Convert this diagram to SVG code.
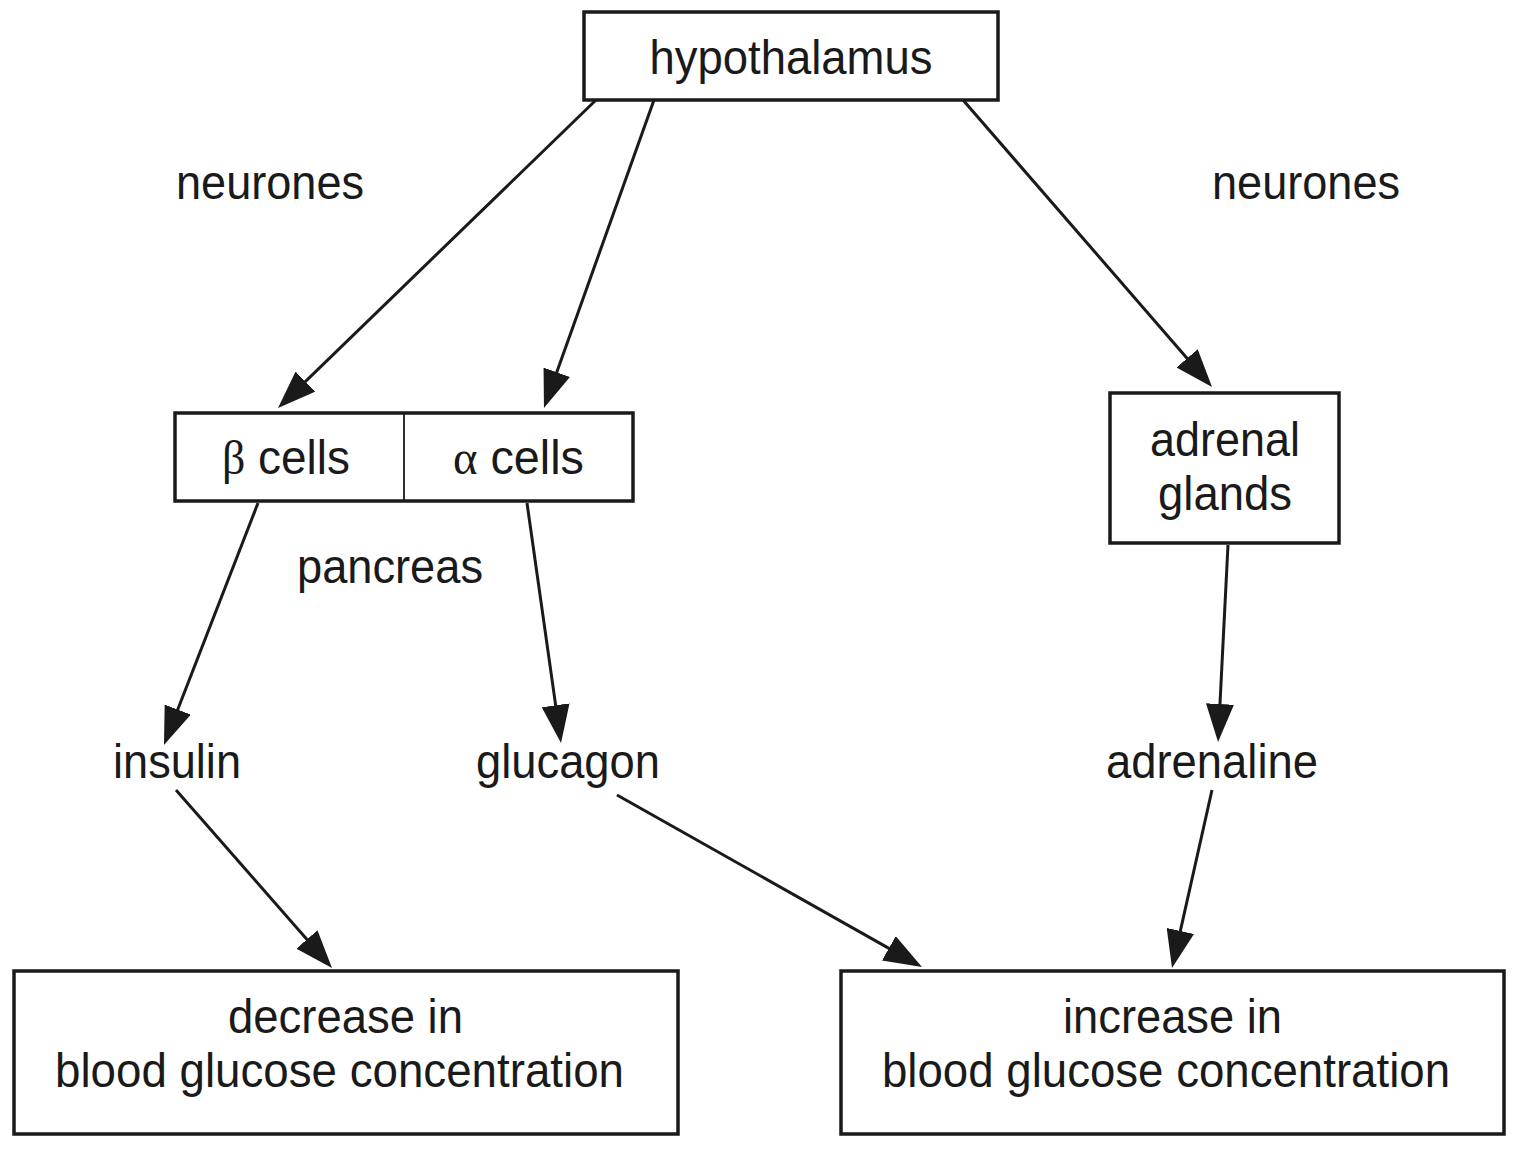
<svg xmlns="http://www.w3.org/2000/svg" width="1514" height="1149" viewBox="0 0 1514 1149">
<defs>
<style>
.box{fill:#fff;stroke:#1a1a1a;stroke-width:3.5}
.div{stroke:#1a1a1a;stroke-width:1.8}
.t{font-family:"Liberation Sans",Arial,sans-serif;font-size:48px;fill:#1a1a1a;text-anchor:middle}
.ln{stroke:#1a1a1a;stroke-width:3;fill:none;marker-end:url(#ah)}
</style>
<marker id="ah" viewBox="0 0 38 28" refX="23" refY="14" markerWidth="38" markerHeight="28" markerUnits="userSpaceOnUse" orient="auto">
<path d="M0,0 L38,14 L0,28 z" fill="#1a1a1a"/>
</marker>
</defs>
<rect width="1514" height="1149" fill="#fff"/>
<g id="connectors">
<line class="ln" x1="596" y1="100" x2="288.8" y2="397.6"/>
<line class="ln" x1="654" y1="100" x2="549.0" y2="393.9"/>
<line class="ln" x1="963" y1="100" x2="1202.2" y2="375.7"/>
<line class="ln" x1="258" y1="503" x2="169.4" y2="731.0"/>
<line class="ln" x1="527" y1="503" x2="558.9" y2="728.1"/>
<line class="ln" x1="1228" y1="545" x2="1218.8" y2="727.0"/>
<line class="ln" x1="176" y1="790" x2="322.1" y2="956.7"/>
<line class="ln" x1="617" y1="795" x2="908.9" y2="959.6"/>
<line class="ln" x1="1212" y1="790" x2="1175.3" y2="953.4"/>
</g>
<g id="hypothalamus">
<rect class="box" x="584" y="12" width="414" height="88"/>
<text class="t" x="791" y="74" textLength="283" lengthAdjust="spacingAndGlyphs">hypothalamus</text>
</g>
<g id="neurones-left"><text class="t" x="270" y="199" textLength="188" lengthAdjust="spacingAndGlyphs">neurones</text></g>
<g id="neurones-right"><text class="t" x="1306" y="199" textLength="188" lengthAdjust="spacingAndGlyphs">neurones</text></g>
<g id="pancreas-cells">
<rect class="box" x="175" y="413" width="458" height="88"/>
<line class="div" x1="404" y1="413" x2="404" y2="501"/>
<text class="t" x="286" y="474" textLength="128" lengthAdjust="spacingAndGlyphs"><tspan font-family="'Liberation Serif',serif">β</tspan> cells</text>
<text class="t" x="518.5" y="474" textLength="131" lengthAdjust="spacingAndGlyphs"><tspan font-family="'Liberation Serif',serif">α</tspan> cells</text>
</g>
<g id="pancreas-label"><text class="t" x="390" y="583" textLength="186" lengthAdjust="spacingAndGlyphs">pancreas</text></g>
<g id="adrenal-glands">
<rect class="box" x="1110" y="393" width="229" height="150"/>
<text class="t" x="1225" y="456" textLength="150" lengthAdjust="spacingAndGlyphs">adrenal</text>
<text class="t" x="1225" y="510" textLength="134" lengthAdjust="spacingAndGlyphs">glands</text>
</g>
<g id="insulin"><text class="t" x="177" y="778" textLength="128" lengthAdjust="spacingAndGlyphs">insulin</text></g>
<g id="glucagon"><text class="t" x="568" y="778" textLength="184" lengthAdjust="spacingAndGlyphs">glucagon</text></g>
<g id="adrenaline"><text class="t" x="1212" y="778" textLength="212" lengthAdjust="spacingAndGlyphs">adrenaline</text></g>
<g id="decrease">
<rect class="box" x="14" y="971" width="664" height="163"/>
<text class="t" x="345.5" y="1033" textLength="235" lengthAdjust="spacingAndGlyphs">decrease in</text>
<text class="t" x="339.5" y="1087" textLength="569" lengthAdjust="spacingAndGlyphs">blood glucose concentration</text>
</g>
<g id="increase">
<rect class="box" x="841" y="971" width="663" height="163"/>
<text class="t" x="1172.5" y="1033" textLength="219" lengthAdjust="spacingAndGlyphs">increase in</text>
<text class="t" x="1166" y="1087" textLength="568" lengthAdjust="spacingAndGlyphs">blood glucose concentration</text>
</g>
</svg>
